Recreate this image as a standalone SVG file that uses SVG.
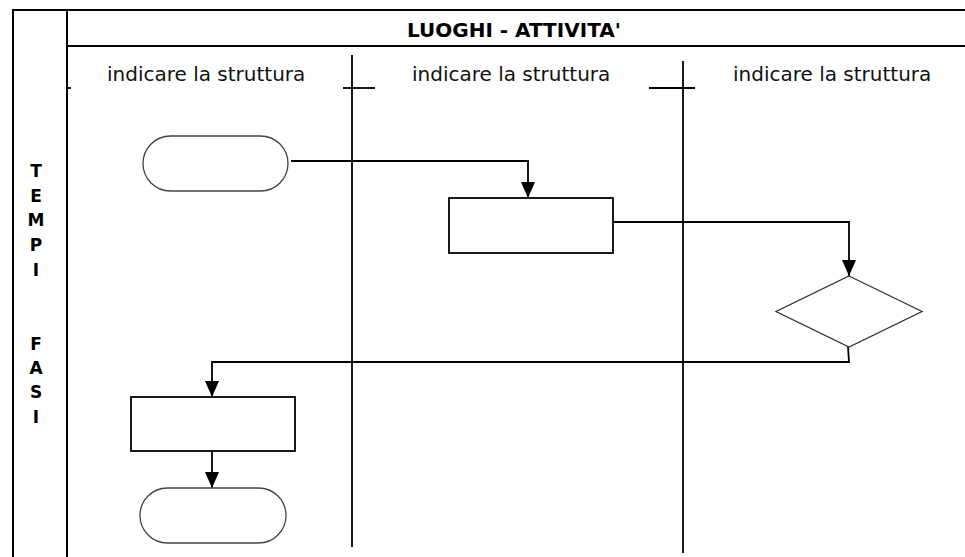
<svg xmlns="http://www.w3.org/2000/svg" width="965" height="557" viewBox="0 0 965 557">
<style>
.frame{stroke:#000;stroke-width:2;fill:none}
.lane{stroke:#000;stroke-width:1.8;fill:none}
.conn{stroke:#000;stroke-width:1.8;fill:none}
.term{stroke:#444;stroke-width:1.3;fill:#fff}
.box{stroke:#000;stroke-width:1.8;fill:#fff}
.dia{stroke:#333;stroke-width:1.3;fill:#fff}
.lbl{font-family:"DejaVu Sans",Verdana,sans-serif;font-size:20px;fill:#111}
.ttl{font-family:"DejaVu Sans",Verdana,sans-serif;font-size:20px;font-weight:bold;fill:#000}
.side{font-family:"DejaVu Sans",Verdana,sans-serif;font-size:17px;font-weight:bold;fill:#000;text-anchor:middle}
</style>
<defs>
<marker id="arr" viewBox="0 0 16 14" refX="16" refY="7" markerWidth="16" markerHeight="14" markerUnits="userSpaceOnUse" orient="auto">
<path d="M0,0 L16,7 L0,14 Z" fill="#000"/>
</marker>
</defs>
<rect width="965" height="557" fill="#fff"/>
<g id="frame">
<line class="frame" x1="13" y1="10" x2="965" y2="10"/>
<line class="frame" x1="13" y1="9" x2="13" y2="557"/>
<line class="frame" x1="67" y1="10" x2="67" y2="557"/>
<line class="frame" x1="67" y1="46" x2="965" y2="46"/>
<line class="lane" x1="67" y1="88" x2="71" y2="88"/>
<line class="lane" x1="352" y1="55" x2="352" y2="547"/>
<line class="lane" x1="343" y1="88" x2="375" y2="88"/>
<line class="lane" x1="683" y1="61" x2="683" y2="553"/>
<line class="lane" x1="649" y1="88" x2="695" y2="88"/>
</g>
<g id="header">
<text class="ttl" x="407" y="37">LUOGHI - ATTIVITA'</text>
<text class="lbl" x="107" y="81">indicare la struttura</text>
<text class="lbl" x="412" y="81">indicare la struttura</text>
<text class="lbl" x="733" y="81">indicare la struttura</text>
</g>
<g id="side">
<text class="side" x="36" y="177">T</text>
<text class="side" x="36" y="202">E</text>
<text class="side" x="36" y="226">M</text>
<text class="side" x="36" y="251">P</text>
<text class="side" x="36" y="276">I</text>
<text class="side" x="36" y="350">F</text>
<text class="side" x="36" y="374">A</text>
<text class="side" x="36" y="398">S</text>
<text class="side" x="36" y="423">I</text>
</g>
<g id="connectors">
<polyline class="conn" points="291,161 528,161 528,198" marker-end="url(#arr)"/>
<polyline class="conn" points="613,222 849,222 849,276" marker-end="url(#arr)"/>
<polyline class="conn" points="848,347 849,362 212,362 212,397" marker-end="url(#arr)"/>
<line class="conn" x1="212" y1="451" x2="212" y2="488" marker-end="url(#arr)"/>
</g>
<g id="start"><rect class="term" x="143" y="136" width="145" height="55" rx="27.5"/></g>
<g id="process1"><rect class="box" x="449" y="198" width="164" height="55"/></g>
<g id="decision"><polygon class="dia" points="849,276 922,311.5 849,347 776,311.5"/></g>
<g id="process2"><rect class="box" x="131" y="397" width="164" height="54"/></g>
<g id="end"><rect class="term" x="140" y="488" width="146" height="55" rx="27.5"/></g>
</svg>
